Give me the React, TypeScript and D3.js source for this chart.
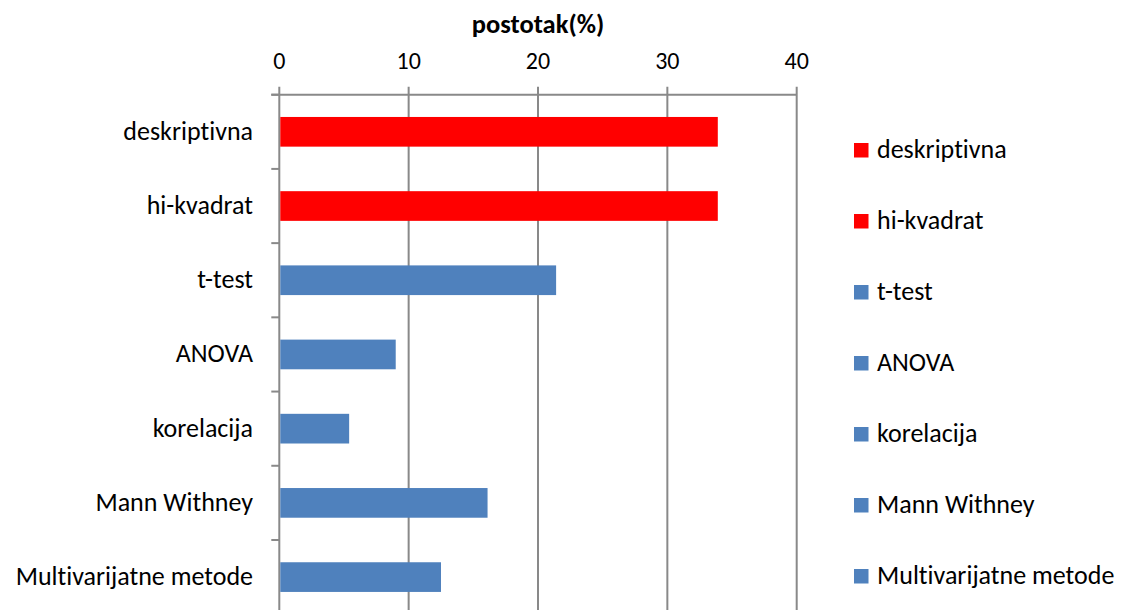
import React, { useRef, useEffect } from "react";
import * as d3 from "d3";

const categories = [
  "deskriptivna",
  "hi-kvadrat",
  "t-test",
  "ANOVA",
  "korelacija",
  "Mann Withney",
  "Multivarijatne metode",
];
const values = [33.9, 33.9, 21.4, 9.0, 5.4, 16.1, 12.5];
const barColors = ["#FF0000", "#FF0000", "#4F81BD", "#4F81BD", "#4F81BD", "#4F81BD", "#4F81BD"];
const xTicks = [0, 10, 20, 30, 40];
const axisTitle = "postotak(%)";

const FONT = "Carlito, Calibri, Lato, sans-serif";

export default function App() {
  const svgRef = useRef<SVGSVGElement>(null);
  const width = 1125;
  const height = 610;

  useEffect(() => {
    if (!svgRef.current) return;
    const svg = d3.select(svgRef.current);
    svg.selectAll("*").remove();

    const left = 279.3;
    const right = 796.7;
    const top = 94.7;
    const bottom = 614.2;
    const grid = "#898989";

    const x = d3.scaleLinear().domain([0, 40]).range([left, right]);
    const y = d3
      .scaleBand()
      .domain(categories)
      .range([top, bottom])
      .paddingInner(0.6)
      .paddingOuter(0.3);

    // vertical gridlines (with small outward ticks above the axis)
    svg
      .append("g")
      .selectAll("line")
      .data(xTicks)
      .join("line")
      .attr("x1", (d) => x(d))
      .attr("x2", (d) => x(d))
      .attr("y1", top - 8)
      .attr("y2", bottom)
      .attr("stroke", grid)
      .attr("stroke-width", 2);

    // top axis line
    svg
      .append("line")
      .attr("x1", left - 8)
      .attr("x2", right)
      .attr("y1", top)
      .attr("y2", top)
      .attr("stroke", grid)
      .attr("stroke-width", 2);

    // category tick marks on the left
    const bounds = categories.map((_, i) => top + i * y.step()).concat([bottom]);
    svg
      .append("g")
      .selectAll("line")
      .data(bounds)
      .join("line")
      .attr("x1", left - 8)
      .attr("x2", left)
      .attr("y1", (d) => d)
      .attr("y2", (d) => d)
      .attr("stroke", grid)
      .attr("stroke-width", 2);

    // bars
    svg
      .append("g")
      .selectAll("rect")
      .data(values)
      .join("rect")
      .attr("x", x(0) + 1)
      .attr("y", (_, i) => y(categories[i]) ?? 0)
      .attr("width", (d) => x(d) - x(0) - 1)
      .attr("height", y.bandwidth())
      .attr("fill", (_, i) => barColors[i]);

    // x tick labels
    svg
      .append("g")
      .selectAll("text")
      .data(xTicks)
      .join("text")
      .attr("x", (d) => x(d))
      .attr("y", 69.3)
      .attr("text-anchor", "middle")
      .style("font-family", FONT)
      .style("font-size", "24px")
      .style("fill", "#000")
      .text((d) => d);

    // axis title
    svg
      .append("text")
      .attr("x", (left + right) / 2)
      .attr("y", 33)
      .attr("text-anchor", "middle")
      .style("font-family", FONT)
      .style("font-size", "26.5px")
      .style("font-weight", "bold")
      .style("fill", "#000")
      .text(axisTitle);

    // category labels
    svg
      .append("g")
      .selectAll("text")
      .data(categories)
      .join("text")
      .attr("x", 253)
      .attr("y", (d) => (y(d) ?? 0) + y.bandwidth() / 2 + 8)
      .attr("text-anchor", "end")
      .style("font-family", FONT)
      .style("font-size", "26px")
      .style("font-variant-ligatures", "none")
      .style("font-feature-settings", '"liga" 0, "clig" 0')
      .style("fill", "#000")
      .text((d) => d);

    // legend
    const ly = d3.scalePoint().domain(categories).range([150.5, 576.5]);
    const legend = svg
      .append("g")
      .selectAll("g")
      .data(categories)
      .join("g")
      .attr("transform", (d) => `translate(854,${ly(d)})`);
    legend
      .append("rect")
      .attr("x", 0)
      .attr("y", -7.5)
      .attr("width", 14.5)
      .attr("height", 14.5)
      .attr("fill", (_, i) => barColors[i]);
    legend
      .append("text")
      .attr("x", 23)
      .attr("y", 7)
      .style("font-family", FONT)
      .style("font-size", "26px")
      .style("font-variant-ligatures", "none")
      .style("font-feature-settings", '"liga" 0, "clig" 0')
      .style("fill", "#000")
      .text((d) => d);
  }, []);

  return (
    <svg
      ref={svgRef}
      width={width}
      height={height}
      style={{ position: "absolute", left: 0, top: 0, background: "#fff" }}
    />
  );
}
